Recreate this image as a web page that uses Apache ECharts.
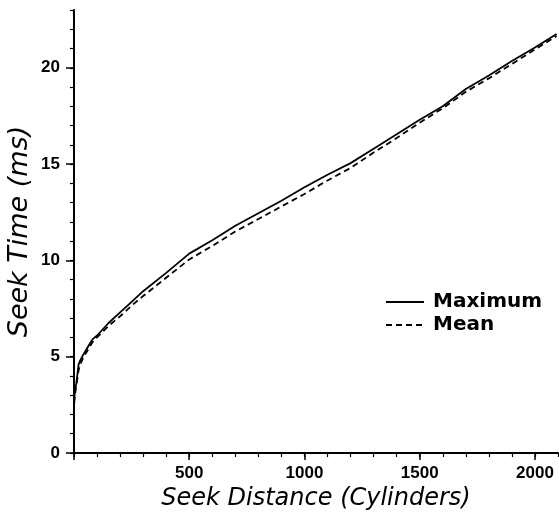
<!DOCTYPE html>
<html><head><meta charset="utf-8">
<script src="https://cdn.jsdelivr.net/npm/echarts@6/dist/echarts.min.js"></script>
<style>html,body{margin:0;padding:0;background:#fff}#c{width:559px;height:513px}</style>
</head><body><div id="c"></div>
<script>
const distances = [1,5,10,20,25,40,60,80,100,150,200,250,300,400,500,600,700,800,900,1000,1100,1200,1300,1400,1500,1600,1700,1800,1900,2000,2094];
const maxTime = [2.8,3.3,3.6,4.6,4.75,5.1,5.5,5.9,6.1,6.75,7.3,7.85,8.4,9.35,10.35,11.05,11.8,12.45,13.1,13.8,14.45,15.05,15.8,16.55,17.3,18.0,18.9,19.6,20.35,21.05,21.75];
const meanTime = [2.6,3.1,3.5,4.3,4.55,4.95,5.35,5.75,6.0,6.6,7.1,7.65,8.15,9.1,10.05,10.75,11.5,12.15,12.8,13.45,14.15,14.8,15.6,16.35,17.15,17.9,18.75,19.45,20.2,20.95,21.65];
const seriesNames = ['Maximum','Mean'];
const xTitle = 'Seek Distance (Cylinders)';
const yTitle = 'Seek Time (ms)';

const font = 'Liberation Sans, Arial, sans-serif';
const wide = 'DejaVu Sans, sans-serif';
const chart = echarts.init(document.getElementById('c'));
const pair = (xs, ys) => xs.map((x,i)=>[x, ys[i]]);
chart.setOption({
  animation:false,
  grid:{left:74,right:1,top:10,bottom:60,containLabel:false,outerBoundsMode:'none'},
  legend:{
    orient:'vertical', left:380, top:287, itemGap:3, itemWidth:38, itemHeight:14,
    itemStyle:{opacity:0},
    textStyle:{fontFamily:wide,fontWeight:'bold',fontSize:20,color:'#000',padding:[0,0,0,4]},
    data:seriesNames
  },
  xAxis:[
    {type:'value',min:0,max:2100,interval:500,
     axisLine:{lineStyle:{color:'#000',width:2}},
     axisTick:{length:7,lineStyle:{color:'#000',width:1.5}},
     splitLine:{show:false},
     axisLabel:{margin:12,color:'#000',fontFamily:font,fontWeight:'bold',fontSize:17,
       formatter:v=>v===0?'':String(v), showMaxLabel:false},
     name:xTitle,nameLocation:'middle',nameGap:34,nameMoveOverlap:false,
     nameTextStyle:{fontFamily:wide,fontStyle:'italic',fontSize:24,color:'#000',verticalAlign:'top'}},
    {type:'value',min:0,max:2100,interval:100,position:'bottom',
     axisLine:{show:false},axisTick:{length:4,lineStyle:{color:'#000',width:1.2}},
     axisLabel:{show:false},splitLine:{show:false}}
  ],
  yAxis:[
    {type:'value',min:0,max:23,interval:5,
     axisLine:{lineStyle:{color:'#000',width:2}},
     axisTick:{length:8,lineStyle:{color:'#000',width:1.5}},
     splitLine:{show:false},
     axisLabel:{margin:14,color:'#000',fontFamily:font,fontWeight:'bold',fontSize:17,showMaxLabel:false},
     name:yTitle,nameLocation:'middle',nameGap:41,nameMoveOverlap:false,
     nameTextStyle:{fontFamily:wide,fontStyle:'italic',fontSize:27,color:'#000'}},
    {type:'value',min:0,max:23,interval:1,position:'left',
     axisLine:{show:false},axisTick:{length:4,lineStyle:{color:'#000',width:1.2}},
     axisLabel:{show:false},splitLine:{show:false}}
  ],
  series:[
    {name:seriesNames[0],type:'line',data:pair(distances,maxTime),symbol:'none',
     lineStyle:{color:'#000',width:1.8,type:'solid'},itemStyle:{color:'#000'}},
    {name:seriesNames[1],type:'line',data:pair(distances,meanTime),symbol:'none',
     lineStyle:{color:'#000',width:1.8,type:[6,4]},itemStyle:{color:'#000'}}
  ]
});
</script></body></html>
